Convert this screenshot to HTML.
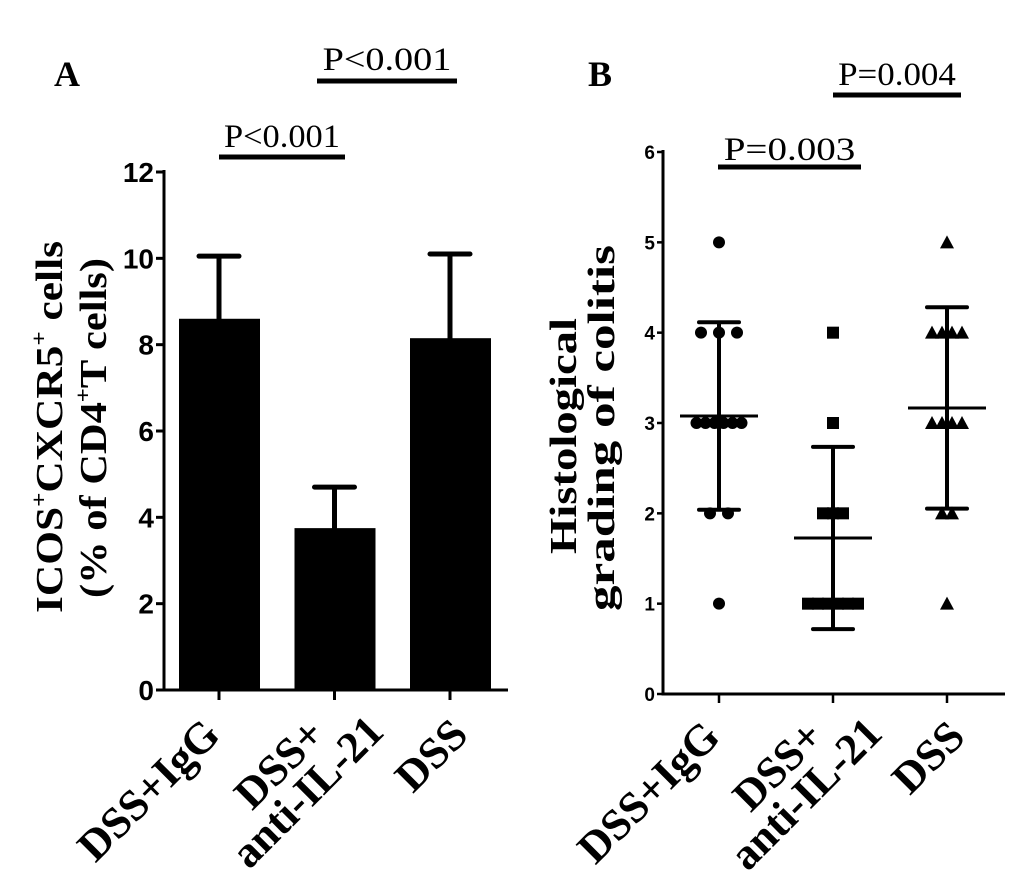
<!DOCTYPE html>
<html><head><meta charset="utf-8"><style>
html,body{margin:0;padding:0;background:#fff;}
svg{display:block;}
.serif{font-family:"Liberation Serif",serif;font-weight:bold;}
.sans{font-family:"Liberation Sans",sans-serif;font-weight:bold;}
</style></head><body>
<svg id="fig" width="1033" height="874" viewBox="0 0 1033 874" xmlns="http://www.w3.org/2000/svg">
<text x="54" y="86" class="serif" font-size="36">A</text>
<text x="588" y="86" class="serif" font-size="36">B</text>
<g>
<text class="serif" font-size="38" text-anchor="middle" transform="translate(62,427) rotate(-90)" textLength="372" lengthAdjust="spacingAndGlyphs">ICOS<tspan font-size="22" dy="-16">+</tspan><tspan dy="16">CXCR5</tspan><tspan font-size="22" dy="-16">+</tspan><tspan dy="16"> cells</tspan></text>
<text class="serif" font-size="38" text-anchor="middle" transform="translate(106,428) rotate(-90)" textLength="340" lengthAdjust="spacingAndGlyphs">(% of CD4<tspan font-size="22" dy="-16">+</tspan><tspan dy="16">T cells)</tspan></text>
</g>
<g>
<text class="serif" font-size="38" text-anchor="middle" transform="translate(576,436) rotate(-90)" textLength="236" lengthAdjust="spacingAndGlyphs">Histological</text>
<text class="serif" font-size="38" text-anchor="middle" transform="translate(614,428) rotate(-90)" textLength="366" lengthAdjust="spacingAndGlyphs">grading of colitis</text>
</g>
<g id="pa"></g>
<g id="pb"></g>
</svg>
<script>
// ---- Panel A data ----
const catsA = ["DSS+IgG", "DSS+anti-IL-21", "DSS"];
const meansA = [8.6, 3.75, 8.15];
const errA = [1.45, 0.95, 1.95];
const ticksA = [0, 2, 4, 6, 8, 10, 12];
// ---- Panel B data ----
const ticksB = [0, 1, 2, 3, 4, 5, 6];
const g1B = [5, 4, 4, 4, 3, 3, 3, 3, 3, 3, 2, 2, 1];
const g2B = [4, 3, 2, 2, 2, 1, 1, 1, 1, 1, 1];
const g3B = [5, 4, 4, 4, 4, 3, 3, 3, 3, 2, 2, 1];
const sigLabels = ["P<0.001", "P<0.001", "P=0.003", "P=0.004"];

const NS = "http://www.w3.org/2000/svg";
function mk(tag, attrs, parent){const e=document.createElementNS(NS,tag);for(const k in attrs)e.setAttribute(k,attrs[k]);parent.appendChild(e);return e;}

// Panel A
const pa = document.getElementById('pa');
const axA = {x0:164, y0:690, yTop:172, xEnd:508, max:12};
const yA = v => axA.y0 - v/axA.max*(axA.y0-axA.yTop);
const xA = i => 219 + i*115.5;
let l = mk('line',{x1:axA.x0,y1:axA.yTop-2,x2:axA.x0,y2:axA.y0,stroke:'#000','stroke-width':3},pa);


l = mk('line',{x1:axA.x0-1.5,y1:axA.y0,x2:axA.xEnd,y2:axA.y0,stroke:'#000','stroke-width':3},pa);


ticksA.forEach(t=>{
  mk('line',{x1:axA.x0-8,y1:yA(t),x2:axA.x0,y2:yA(t),stroke:'#000','stroke-width':3},pa);
  const tx = mk('text',{x:axA.x0-10,y:yA(t)+10,'text-anchor':'end','font-size':28,class:'sans'},pa);
  tx.textContent=t;
  
  
});
meansA.forEach((m,i)=>{
  const cx=xA(i);
  const r=mk('rect',{x:cx-40,y:yA(m),width:81,height:axA.y0-yA(m),fill:'#000'},pa);
  
  
  const e=mk('path',{d:`M${cx} ${yA(m)} V${yA(m+errA[i])} M${cx-20} ${yA(m+errA[i])} H${cx+20}`,stroke:'#000','stroke-width':5,fill:'none','stroke-linecap':'round'},pa);
  
  
  mk('line',{x1:cx,y1:axA.y0,x2:cx,y2:axA.y0+10,stroke:'#000','stroke-width':3},pa);
});

function xLabels(g, xs, dy, name){
  // single line labels
  const lab = (txt, x, y, anchor) => {
    const t = mk('text',{class:'serif','font-size':44,'text-anchor':anchor,transform:`translate(${x},${y}) rotate(-45)`},g);
    t.textContent = txt;
    
    
    return t;
  };
  lab(catsA[0], xs[0]+3, 737+dy, 'end');
  lab("DSS+", xs[1]-45, 774+dy, 'middle');
  lab("anti-IL-21", xs[1]-17, 802+dy, 'middle');
  lab(catsA[2], xs[2]+20, 737+dy, 'end');
}
xLabels(pa,[xA(0),xA(1),xA(2)],0,'panel-a');

function sig(g, txt, x1, x2, y, ty){
  const ln=mk('line',{x1:x1,y1:y,x2:x2,y2:y,stroke:'#000','stroke-width':5},g);
  
  
  const t=mk('text',{x:(x1+x2)/2,y:ty,'text-anchor':'middle','font-size':33,'font-family':'Liberation Serif, serif',textLength:(x2-x1)*0.92,lengthAdjust:'spacingAndGlyphs'},g);
  t.textContent=txt;
  
  
}
sig(pa, sigLabels[0], 219, 345, 157, 147);
sig(pa, sigLabels[1], 317, 457, 81, 70);

// Panel B
const pb=document.getElementById('pb');
const axB={x0:663,y0:694,yTop:152,xEnd:1005,max:6};
const yB=v=>axB.y0 - v/axB.max*(axB.y0-axB.yTop);
const xB=i=>719+i*114;
l=mk('line',{x1:axB.x0,y1:axB.yTop-2,x2:axB.x0,y2:axB.y0,stroke:'#000','stroke-width':3},pb);


l=mk('line',{x1:axB.x0-1.5,y1:axB.y0,x2:axB.xEnd,y2:axB.y0,stroke:'#000','stroke-width':3},pb);


ticksB.forEach(t=>{
  mk('line',{x1:axB.x0-6,y1:yB(t),x2:axB.x0,y2:yB(t),stroke:'#000','stroke-width':2.5},pb);
  const tx=mk('text',{x:axB.x0-8,y:yB(t)+7,'text-anchor':'end','font-size':19,class:'sans'},pb);
  tx.textContent=t;
  
  
});
const groupsB=[g1B,g2B,g3B];
const shapes=['circle','square','triangle'];
groupsB.forEach((arr,gi)=>{
  const cx=xB(gi);
  mk('line',{x1:cx,y1:axB.y0,x2:cx,y2:axB.y0+9,stroke:'#000','stroke-width':2.5},pb);
  const n=arr.length, mean=arr.reduce((a,b)=>a+b,0)/n;
  const sd=Math.sqrt(arr.reduce((a,b)=>a+(b-mean)*(b-mean),0)/(n-1));
  const eb=mk('path',{d:`M${cx} ${yB(mean-sd)} V${yB(mean+sd)} M${cx-20} ${yB(mean+sd)} H${cx+20} M${cx-20} ${yB(mean-sd)} H${cx+20}`,stroke:'#000','stroke-width':4,fill:'none','stroke-linecap':'round'},pb);
  
  
  const ml=mk('line',{x1:cx-39,y1:yB(mean),x2:cx+39,y2:yB(mean),stroke:'#000','stroke-width':3},pb);
  
  
  const counts={};arr.forEach(v=>counts[v]=(counts[v]||0)+1);
  const seen={};
  arr.forEach(v=>{
    const k=seen[v]||0; seen[v]=k+1;
    const sp=gi===0?(counts[v]>3?9:18):10;
    const px=cx+(k-(counts[v]-1)/2)*sp, py=yB(v);
    let m;
    if(shapes[gi]==='circle') m=mk('circle',{cx:px,cy:py,r:6,fill:'#000'},pb);
    else if(shapes[gi]==='square') m=mk('rect',{x:px-6,y:py-6,width:12,height:12,fill:'#000'},pb);
    else m=mk('polygon',{points:`${px},${py-7} ${px+7},${py+6} ${px-7},${py+6}`,fill:'#000'},pb);
    
    
  });
});
xLabels(pb,[xB(0),xB(1),xB(2)],2,'panel-b');
sig(pb, sigLabels[2], 718, 861, 167, 160);
sig(pb, sigLabels[3], 833, 961, 95, 85);
</script>
</body></html>
